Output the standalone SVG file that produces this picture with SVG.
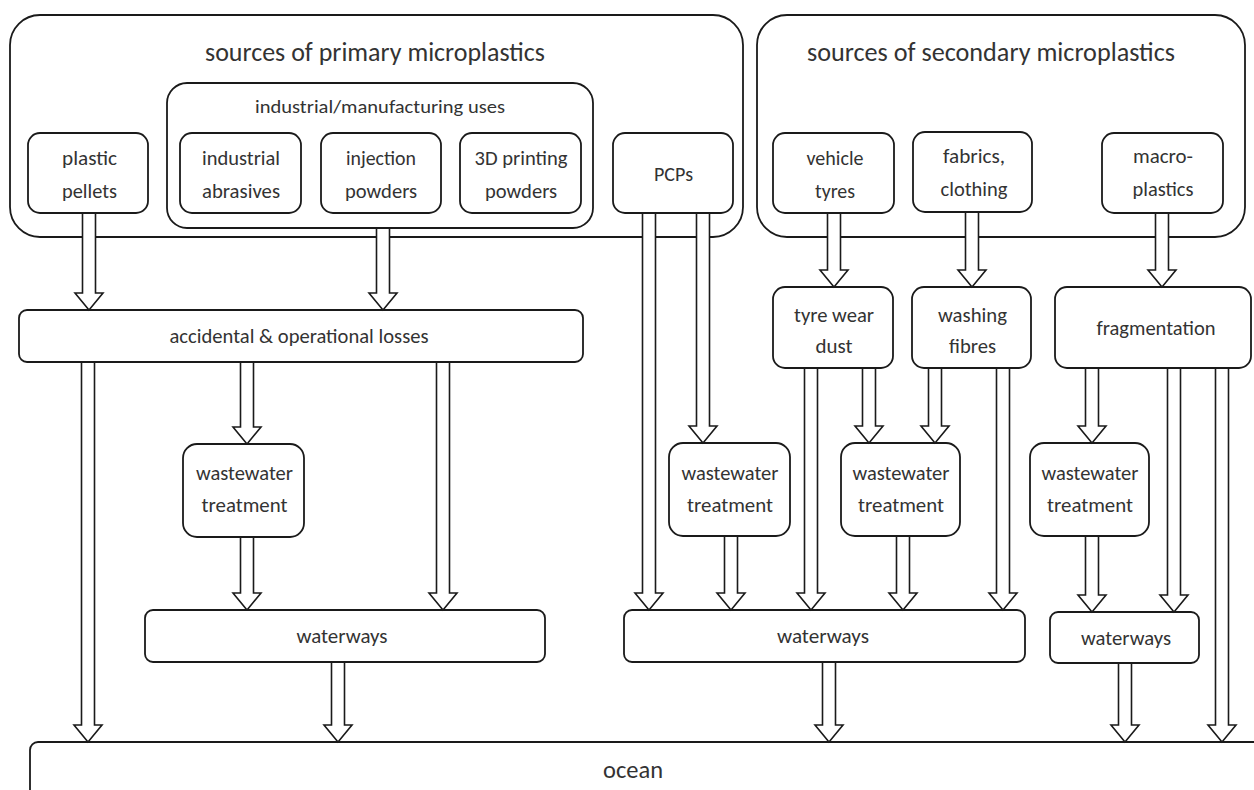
<svg xmlns="http://www.w3.org/2000/svg" width="1254" height="790" viewBox="0 0 1254 790">
<style>
.box{fill:#fff;stroke:#1a1a1a;stroke-width:1.8}
.t{font-family:Carlito,"Liberation Sans Narrow","Liberation Sans",sans-serif;font-size:20px;fill:#333;text-anchor:middle}
.big{font-size:26px}
.mid{font-size:19px}
.arr{fill:#fff;stroke:#1a1a1a;stroke-width:1.6;stroke-linejoin:miter}
</style>
<rect x="0" y="0" width="1254" height="790" fill="#fff"/>
<g id="primary">
<rect class="box" x="10" y="15" width="733" height="222" rx="30"/>
<text class="t big" x="375" y="61" textLength="340" lengthAdjust="spacingAndGlyphs">sources of primary microplastics</text>
</g>
<g id="secondary">
<rect class="box" x="757" y="15" width="488" height="222" rx="30"/>
<text class="t big" x="991" y="61" textLength="368" lengthAdjust="spacingAndGlyphs">sources of secondary microplastics</text>
</g>
<g id="industrial-uses">
<rect class="box" x="167" y="83" width="426" height="145" rx="20"/>
<text class="t mid" x="380" y="113" textLength="250" lengthAdjust="spacingAndGlyphs">industrial/manufacturing uses</text>
</g>
<g id="plastic-pellets">
<rect class="box" x="28" y="133" width="120" height="80" rx="12"/>
<text class="t" x="89.5" y="165" textLength="55" lengthAdjust="spacingAndGlyphs">plastic</text>
<text class="t" x="89.5" y="198" textLength="55" lengthAdjust="spacingAndGlyphs">pellets</text>
</g>
<g id="industrial-abrasives">
<rect class="box" x="180" y="133" width="121" height="80" rx="12"/>
<text class="t" x="241" y="165" textLength="78" lengthAdjust="spacingAndGlyphs">industrial</text>
<text class="t" x="241" y="198" textLength="78" lengthAdjust="spacingAndGlyphs">abrasives</text>
</g>
<g id="injection-powders">
<rect class="box" x="321" y="133" width="120" height="80" rx="12"/>
<text class="t" x="381" y="165" textLength="70" lengthAdjust="spacingAndGlyphs">injection</text>
<text class="t" x="381" y="198" textLength="72" lengthAdjust="spacingAndGlyphs">powders</text>
</g>
<g id="printing-powders">
<rect class="box" x="460" y="133" width="121" height="80" rx="12"/>
<text class="t" x="521" y="165" textLength="93" lengthAdjust="spacingAndGlyphs">3D printing</text>
<text class="t" x="521" y="198" textLength="72" lengthAdjust="spacingAndGlyphs">powders</text>
</g>
<g id="pcps">
<rect class="box" x="613" y="133" width="120" height="80" rx="12"/>
<text class="t" x="673.5" y="181" textLength="39" lengthAdjust="spacingAndGlyphs">PCPs</text>
</g>
<g id="vehicle-tyres">
<rect class="box" x="773" y="133" width="121" height="80" rx="12"/>
<text class="t" x="835" y="165" textLength="57" lengthAdjust="spacingAndGlyphs">vehicle</text>
<text class="t" x="835" y="198" textLength="40" lengthAdjust="spacingAndGlyphs">tyres</text>
</g>
<g id="fabrics-clothing">
<rect class="box" x="913" y="132" width="119" height="80" rx="12"/>
<text class="t" x="974" y="163" textLength="62" lengthAdjust="spacingAndGlyphs">fabrics,</text>
<text class="t" x="974" y="196" textLength="67" lengthAdjust="spacingAndGlyphs">clothing</text>
</g>
<g id="macro-plastics">
<rect class="box" x="1102" y="133" width="121" height="80" rx="12"/>
<text class="t" x="1163" y="163" textLength="60" lengthAdjust="spacingAndGlyphs">macro-</text>
<text class="t" x="1163" y="196" textLength="61" lengthAdjust="spacingAndGlyphs">plastics</text>
</g>
<g id="accidental-losses">
<rect class="box" x="19" y="310" width="564" height="52" rx="8"/>
<text class="t" x="299" y="343" textLength="259" lengthAdjust="spacingAndGlyphs">accidental &amp; operational losses</text>
</g>
<g id="tyre-wear-dust">
<rect class="box" x="773" y="287" width="120" height="81" rx="12"/>
<text class="t" x="834" y="322" textLength="80" lengthAdjust="spacingAndGlyphs">tyre wear</text>
<text class="t" x="834" y="353" textLength="37" lengthAdjust="spacingAndGlyphs">dust</text>
</g>
<g id="washing-fibres">
<rect class="box" x="912" y="287" width="119" height="81" rx="12"/>
<text class="t" x="972.5" y="322" textLength="69" lengthAdjust="spacingAndGlyphs">washing</text>
<text class="t" x="972.5" y="353" textLength="47" lengthAdjust="spacingAndGlyphs">fibres</text>
</g>
<g id="fragmentation">
<rect class="box" x="1055" y="287" width="196" height="81" rx="12"/>
<text class="t" x="1156" y="335" textLength="119" lengthAdjust="spacingAndGlyphs">fragmentation</text>
</g>
<g id="wwt-left">
<rect class="box" x="183" y="444" width="121" height="93" rx="14"/>
<text class="t" x="244.5" y="480" textLength="97" lengthAdjust="spacingAndGlyphs">wastewater</text>
<text class="t" x="244.5" y="512" textLength="86" lengthAdjust="spacingAndGlyphs">treatment</text>
</g>
<g id="wwt-mid1">
<rect class="box" x="669" y="443" width="121" height="93" rx="14"/>
<text class="t" x="730" y="480" textLength="97" lengthAdjust="spacingAndGlyphs">wastewater</text>
<text class="t" x="730" y="512" textLength="86" lengthAdjust="spacingAndGlyphs">treatment</text>
</g>
<g id="wwt-mid2">
<rect class="box" x="841" y="443" width="119" height="93" rx="14"/>
<text class="t" x="901" y="480" textLength="97" lengthAdjust="spacingAndGlyphs">wastewater</text>
<text class="t" x="901" y="512" textLength="86" lengthAdjust="spacingAndGlyphs">treatment</text>
</g>
<g id="wwt-right">
<rect class="box" x="1030" y="443" width="119" height="93" rx="14"/>
<text class="t" x="1090" y="480" textLength="97" lengthAdjust="spacingAndGlyphs">wastewater</text>
<text class="t" x="1090" y="512" textLength="86" lengthAdjust="spacingAndGlyphs">treatment</text>
</g>
<g id="waterways-left">
<rect class="box" x="145" y="610" width="400" height="52" rx="8"/>
<text class="t" x="342" y="643" textLength="91" lengthAdjust="spacingAndGlyphs">waterways</text>
</g>
<g id="waterways-mid">
<rect class="box" x="624" y="610" width="401" height="52" rx="8"/>
<text class="t" x="823" y="643" textLength="92" lengthAdjust="spacingAndGlyphs">waterways</text>
</g>
<g id="waterways-right">
<rect class="box" x="1050" y="612" width="149" height="51" rx="8"/>
<text class="t" x="1126" y="645" textLength="90" lengthAdjust="spacingAndGlyphs">waterways</text>
</g>
<g id="ocean">
<rect class="box" x="30" y="742" width="1260" height="80" rx="8"/>
<text class="t" x="633" y="778" font-size="25" style="font-size:25px" textLength="60" lengthAdjust="spacingAndGlyphs">ocean</text>
</g>
<g id="connectors">
<path class="arr" d="M82.5,214 V293 H75 L89,310 L103,293 H95.5 V214"/>
<path class="arr" d="M376.5,229 V293 H369 L383,310 L397,293 H389.5 V229"/>
<path class="arr" d="M81.5,363 V725 H74 L88,742 L102,725 H94.5 V363"/>
<path class="arr" d="M240.5,363 V427 H233 L247,444 L261,427 H253.5 V363"/>
<path class="arr" d="M436.5,363 V593 H429 L443,610 L457,593 H449.5 V363"/>
<path class="arr" d="M240.5,538 V593 H233 L247,610 L261,593 H253.5 V538"/>
<path class="arr" d="M331.5,663 V725 H324 L338,742 L352,725 H344.5 V663"/>
<path class="arr" d="M642.5,214 V593 H635 L649,610 L663,593 H655.5 V214"/>
<path class="arr" d="M696.5,214 V426 H689 L703,443 L717,426 H709.5 V214"/>
<path class="arr" d="M827.5,214 V270 H820 L834,287 L848,270 H840.5 V214"/>
<path class="arr" d="M965.5,213 V270 H958 L972,287 L986,270 H978.5 V213"/>
<path class="arr" d="M1155.5,214 V270 H1148 L1162,287 L1176,270 H1168.5 V214"/>
<path class="arr" d="M804.5,369 V593 H797 L811,610 L825,593 H817.5 V369"/>
<path class="arr" d="M862.5,369 V426 H855 L869,443 L883,426 H875.5 V369"/>
<path class="arr" d="M928.5,369 V426 H921 L935,443 L949,426 H941.5 V369"/>
<path class="arr" d="M996.5,369 V593 H989 L1003,610 L1017,593 H1009.5 V369"/>
<path class="arr" d="M1085.5,369 V426 H1078 L1092,443 L1106,426 H1098.5 V369"/>
<path class="arr" d="M1167.5,369 V595 H1160 L1174,612 L1188,595 H1180.5 V369"/>
<path class="arr" d="M1215.5,369 V725 H1208 L1222,742 L1236,725 H1228.5 V369"/>
<path class="arr" d="M724.5,537 V593 H717 L731,610 L745,593 H737.5 V537"/>
<path class="arr" d="M896.5,537 V593 H889 L903,610 L917,593 H909.5 V537"/>
<path class="arr" d="M1085.5,537 V595 H1078 L1092,612 L1106,595 H1098.5 V537"/>
<path class="arr" d="M822.5,663 V725 H815 L829,742 L843,725 H835.5 V663"/>
<path class="arr" d="M1118.5,664 V725 H1111 L1125,742 L1139,725 H1131.5 V664"/>
</g>
</svg>
